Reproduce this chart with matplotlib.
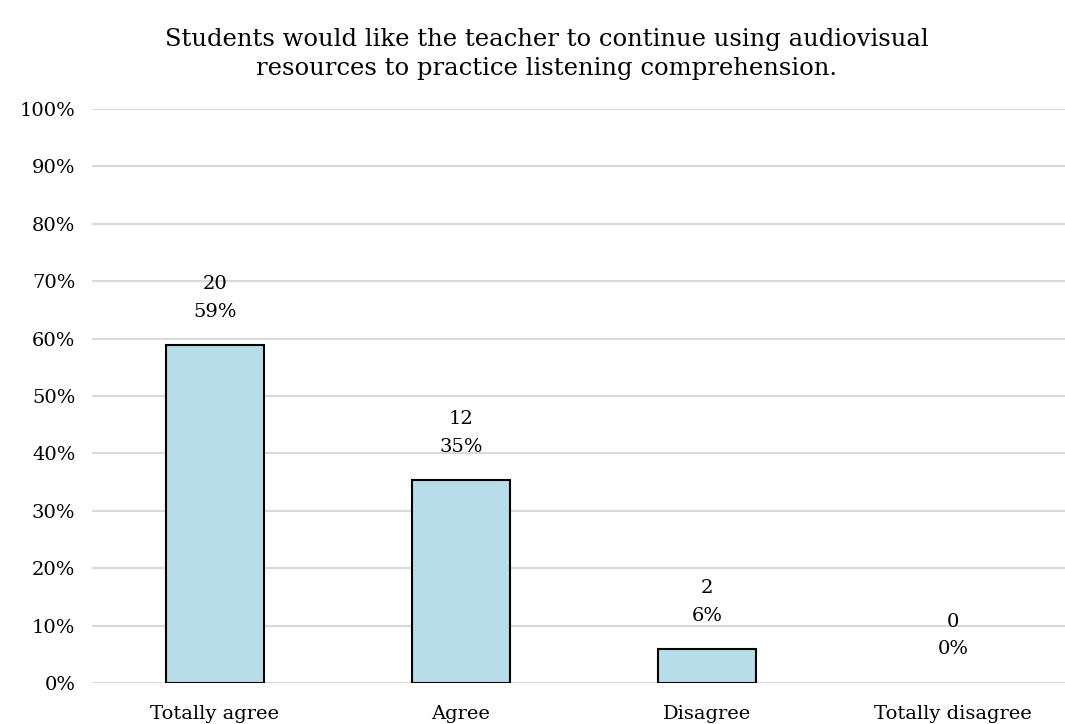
import matplotlib.pyplot as plt

categories = ["Totally agree", "Agree", "Disagree", "Totally disagree"]
counts = [20, 12, 2, 0]
total = sum(counts)
shares = [c / total for c in counts]
yticks = [i / 10 for i in range(11)]

plt.rcParams["font.family"] = ["DejaVu Serif"]

fig = plt.figure(figsize=(10.65, 7.24), dpi=100)
ax = fig.add_axes([92 / 1065, (724 - 683) / 724, 1 - 92 / 1065, 574 / 724])

x = range(len(categories))
bars = ax.bar(x, shares, width=0.4, color="#B7DDE8", edgecolor="black", linewidth=1.5, zorder=3)
for b, c in zip(bars, counts):
    if c == 0:
        b.set_linewidth(0)  # an empty bar shows no outline

for i, (c, s) in enumerate(zip(counts, shares)):
    ax.text(i, s + 0.043, f"{c}\n{s:.0%}", ha="center", va="bottom",
            fontsize=14, linespacing=1.7, zorder=4)

ax.set_ylim(0, 1)
ax.set_xlim(-0.5, 3.5 - 11 / 246)
ax.set_yticks(yticks)
ax.set_yticklabels([f"{t:.0%}" for t in yticks], fontsize=14)
ax.set_xticks(list(x))
ax.set_xticklabels(categories, fontsize=14)
ax.tick_params(axis="y", length=0, pad=12)
ax.tick_params(axis="x", length=0, pad=16)
ax.grid(axis="y", color="#D9D9D9", linewidth=1.5, zorder=0)
for sp in ax.spines.values():
    sp.set_visible(False)

fig.suptitle("Students would like the teacher to continue using audiovisual\n"
             "resources to practice listening comprehension.",
             x=547 / 1065, y=1 - 28 / 724, va="top", fontsize=17.5, linespacing=1.35)

fig.savefig("out.png", dpi=100)
